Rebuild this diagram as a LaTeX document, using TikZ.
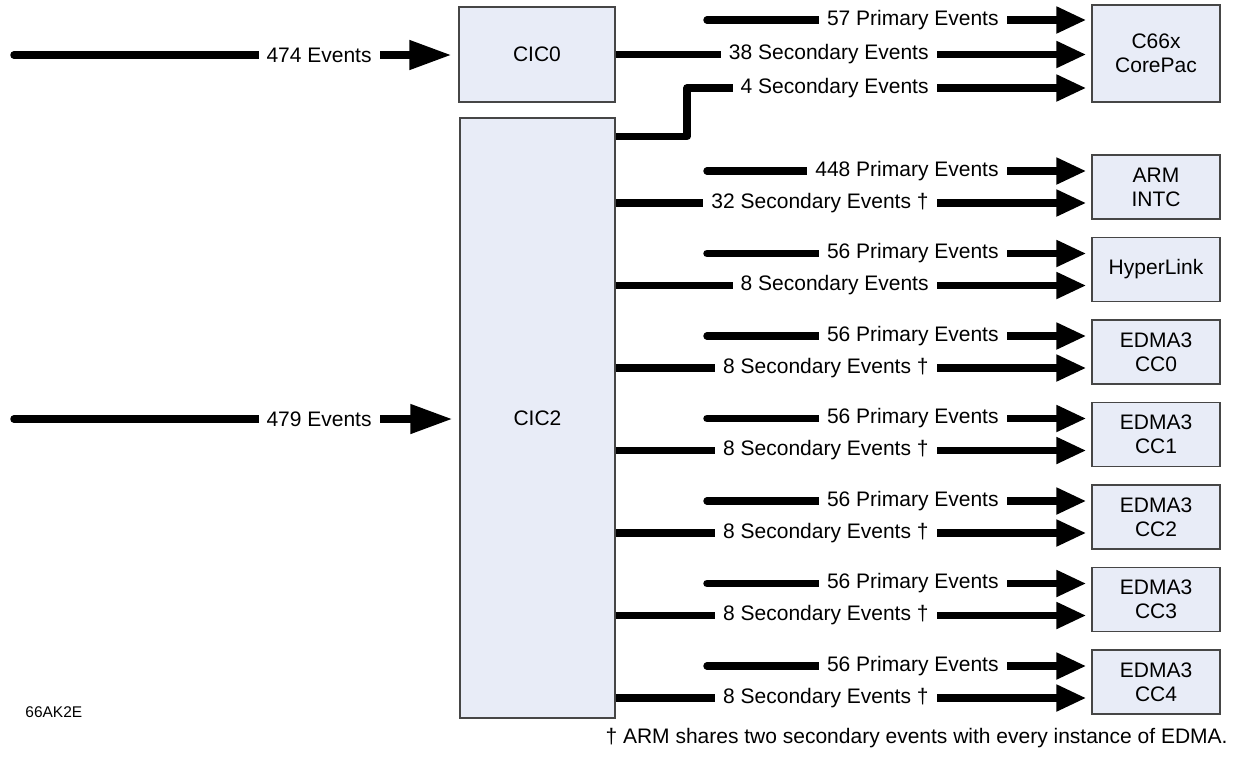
\documentclass[tikz,border=0pt]{standalone}
\usepackage{fontspec}
\setmainfont{Liberation Sans}
\usetikzlibrary{arrows.meta}
\definecolor{boxfill}{RGB}{232,236,247}
\definecolor{boxline}{RGB}{70,70,70}
\tikzset{
	blk/.style={draw=boxline, line width=0.6pt, fill=boxfill, align=center, inner sep=0pt, font=\fontsize{10.5}{12}\selectfont},
	evt/.style={line width=3.75pt, line join=round, -{Triangle[length=15pt,width=12.5pt]}, shorten >=2.5pt},
	inevt/.style={line width=3.75pt, line cap=round, -{Triangle[length=21pt,width=14pt]}, shorten >=3.5pt},
	lbl/.style={fill=white, inner xsep=4pt, inner ysep=1pt, anchor=east, font=\fontsize{10.5}{12}\selectfont},
}
\begin{document}
\begin{tikzpicture}[x=0.5pt,y=-0.5pt]
			\useasboundingbox (0,0) rectangle (1235,757);
			
			\node[blk, minimum width=78pt, minimum height=47.5pt] (cic0) at (537,54.5) {CIC0};
			\node[blk, minimum width=77.5pt, minimum height=300pt] (cic2) at (537.5,418) {CIC2};
			
			\node[blk, minimum width=64pt, minimum height=48.5pt] (core) at (1156,53.5) {C66x\\CorePac};
			\node[blk, minimum width=64pt, minimum height=32pt] (arm) at (1156,187) {ARM\\INTC};
			\node[blk, minimum width=64pt, minimum height=32pt] (hlink) at (1156,269.5) {HyperLink};
			\foreach \i in {0,...,4}
			\node[blk, minimum width=64pt, minimum height=32pt] (cc\i) at (1156,{352+82.5*\i}) {EDMA3\\CC\i};
			
			% system events in
			\coordinate (in0) at (14,55);
			\coordinate (in2) at (14,419);
			\draw[inevt] (in0) -- (in0 -| cic0.west);
			\draw[inevt] (in2) -- (in2 -| cic2.west);
			\node[lbl] (l474) at (380,55) {474 Events};
			\node[lbl] (l479) at (380,419) {479 Events};
			
			% corepac
			\coordinate (p57) at (707,20);
			\coordinate (bend) at (687,88);
			\draw[evt, line cap=round] (p57) -- (p57 -| core.west);
			\draw[evt] (cic0.east) -- (cic0.east -| core.west);
			\draw[evt] ([yshift=-9.5pt]cic2.north east) -| (bend) -- (bend -| core.west);
			\node[lbl] (l57) at (1007,20) {57 Primary Events};
			\node[lbl] (l38) at (937,54.5) {38 Secondary Events};
			\node[lbl] (l4) at (937,88) {4 Secondary Events};
			
			% other targets
			\foreach \t/\pl/\sl in {arm/448 Primary Events/32 Secondary Events \dag, hlink/56 Primary Events/8 Secondary Events, cc0/56 Primary Events/8 Secondary Events \dag, cc1/56 Primary Events/8 Secondary Events \dag, cc2/56 Primary Events/8 Secondary Events \dag, cc3/56 Primary Events/8 Secondary Events \dag, cc4/56 Primary Events/8 Secondary Events \dag}
			{
				\coordinate (pri\t) at ([yshift=8pt]\t.west);
				\coordinate (sec\t) at ([yshift=-8pt]\t.west);
				\draw[evt, line cap=round] (707,0 |- pri\t) -- (pri\t);
				\draw[evt] (cic2.east |- sec\t) -- (sec\t);
				\node[lbl] (lp\t) at (1007,0 |- pri\t) {\pl};
				\node[lbl] (ls\t) at (937,0 |- sec\t) {\sl};
			}
			
			\node[anchor=west, inner sep=0pt, font=\fontsize{7.75}{9}\selectfont] (part) at (25,712) {66AK2E};
			\node[anchor=east, inner sep=0pt, font=\fontsize{10.5}{12}\selectfont] (note) at (1228,738) {\dag{} ARM shares two secondary events with every instance of EDMA.};
		\end{tikzpicture}
\end{document}
